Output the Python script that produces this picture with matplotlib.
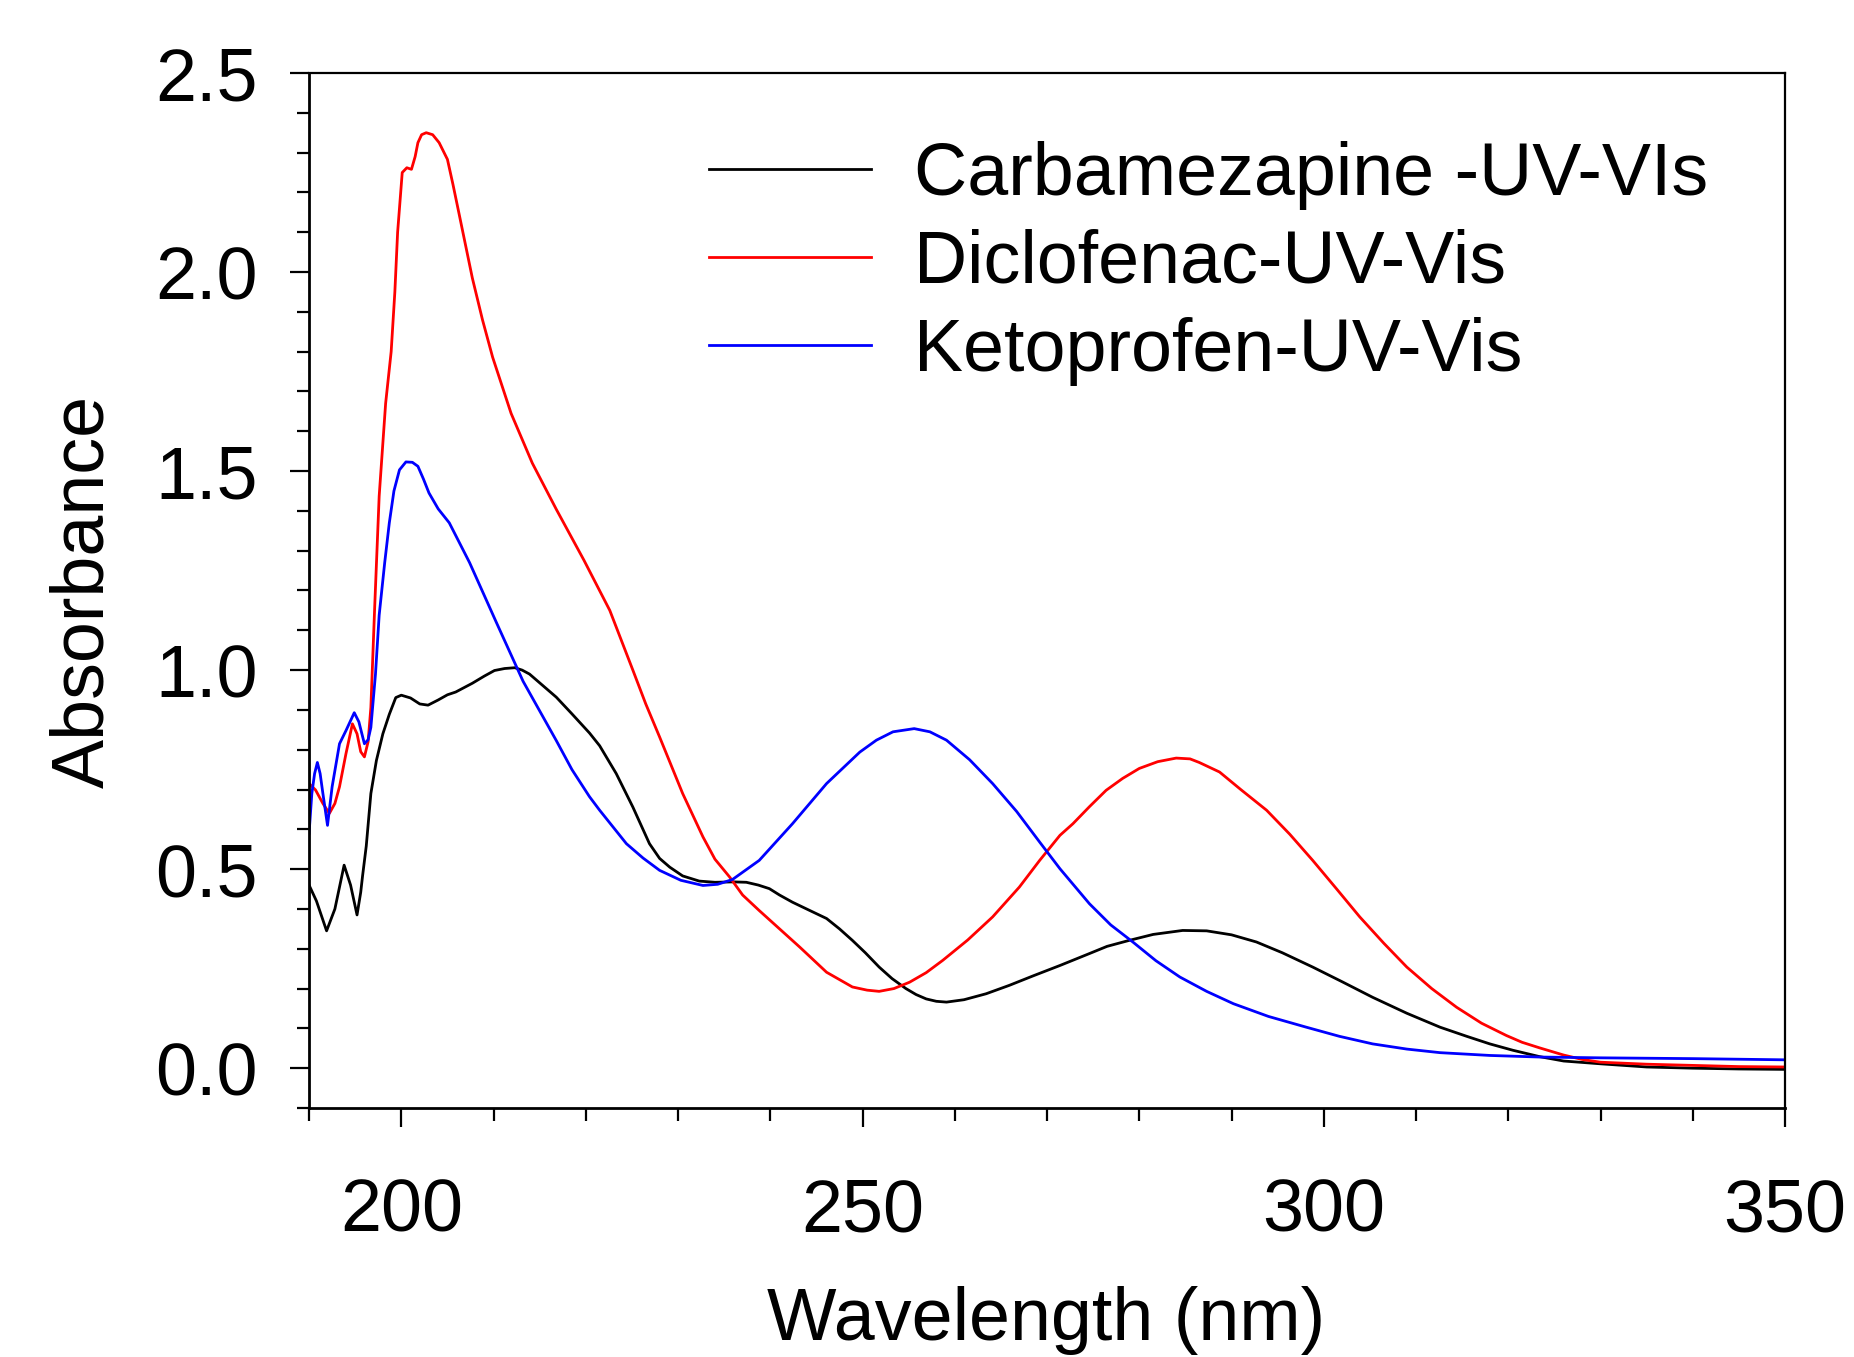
import matplotlib
matplotlib.use("Agg")
import matplotlib.pyplot as plt
from matplotlib.ticker import MultipleLocator

plt.rcParams['font.family'] = ['Liberation Sans', 'DejaVu Sans']

# Carbamazepine spectrum (wavelength nm, absorbance)
carb_wl = [190.0, 190.8, 191.9, 192.8, 193.8, 194.5, 195.2, 195.6, 195.8, 196.2, 196.7,
           197.3, 198.0, 198.7, 199.4, 200.0, 201.0, 202.0, 202.9, 204.0, 205.0, 205.9,
           207.7, 209.0, 210.1, 211.2, 212.3, 213.1, 213.9, 215.3, 216.8, 218.5, 220.4,
           221.5, 223.3, 225.1, 226.9, 228.0, 229.1, 230.5, 232.3, 234.0, 236.0, 237.4,
           238.7, 239.9, 241.0, 242.4, 244.2, 246.1, 247.5, 248.9, 250.3, 251.8, 253.2,
           254.7, 255.8, 256.9, 258.0, 259.1, 261.0, 263.4, 265.9, 268.5, 271.4, 274.6,
           276.5, 278.9, 281.5, 284.7, 287.3, 290.0, 292.7, 295.5, 298.8, 302.0, 305.3,
           309.0, 312.6, 315.5, 318.0, 320.5, 323.4, 326.0, 330.0, 335.0, 340.0, 345.0, 350.0]
carb_abs = [0.46, 0.42, 0.345, 0.40, 0.51, 0.46, 0.385, 0.442, 0.483, 0.558, 0.69,
            0.773, 0.84, 0.889, 0.931, 0.937, 0.93, 0.915, 0.912, 0.925, 0.938, 0.945,
            0.967, 0.985, 0.999, 1.004, 1.006, 1.0, 0.99, 0.962, 0.932, 0.89, 0.842,
            0.81, 0.74, 0.656, 0.564, 0.527, 0.505, 0.483, 0.47, 0.467, 0.468, 0.467,
            0.46, 0.451, 0.435, 0.417, 0.397, 0.376, 0.35, 0.321, 0.29, 0.254, 0.225,
            0.2, 0.185, 0.174, 0.168, 0.166, 0.172, 0.187, 0.208, 0.232, 0.258, 0.288,
            0.306, 0.321, 0.336, 0.346, 0.345, 0.335, 0.317, 0.29, 0.254, 0.217, 0.178,
            0.138, 0.103, 0.08, 0.061, 0.045, 0.029, 0.018, 0.011, 0.003, 0.0, -0.002, -0.003]

# Diclofenac spectrum
dicl_wl = [190.0, 190.7, 191.5, 192.2, 192.8, 193.3, 194.0, 194.7, 195.2, 195.6, 196.0,
           196.4, 196.7, 197.1, 197.6, 198.3, 198.9, 199.3, 199.6, 200.1, 200.6, 201.1,
           201.5, 201.8, 202.2, 202.7, 203.4, 204.1, 205.0, 205.6, 206.3, 207.7, 208.8,
           209.9, 211.9, 214.2, 216.8, 219.8, 222.6, 225.1, 226.5, 228.0, 230.5, 232.7,
           234.0, 235.6, 237.0, 238.8, 241.0, 243.2, 246.1, 248.9, 250.5, 251.8, 253.4,
           255.1, 256.9, 258.7, 261.4, 264.1, 267.0, 269.2, 271.4, 272.8, 274.6, 276.4,
           278.2, 280.0, 282.0, 284.0, 285.5, 286.5, 288.7, 291.0, 293.8, 296.3, 298.8,
           301.4, 303.9, 306.5, 309.0, 311.7, 314.4, 317.1, 319.8, 321.5, 323.4, 326.0,
           328.0, 330.0, 335.0, 340.0, 345.0, 350.0]
dicl_abs = [0.715, 0.699, 0.665, 0.64, 0.665, 0.707, 0.79, 0.865, 0.84, 0.795, 0.782,
            0.82, 0.906, 1.15, 1.437, 1.67, 1.80, 1.95, 2.10, 2.25, 2.262, 2.258,
            2.29, 2.325, 2.345, 2.35, 2.345, 2.325, 2.283, 2.22, 2.142, 1.985, 1.88,
            1.786, 1.645, 1.52, 1.404, 1.276, 1.15, 1.0, 0.915, 0.832, 0.69, 0.581,
            0.525, 0.48, 0.435, 0.396, 0.35, 0.304, 0.241, 0.204, 0.196, 0.193, 0.2,
            0.216, 0.24, 0.271, 0.322, 0.38, 0.455, 0.522, 0.585, 0.614, 0.657, 0.698,
            0.728, 0.753, 0.770, 0.779, 0.777, 0.768, 0.744, 0.70, 0.648, 0.588, 0.522,
            0.45, 0.38, 0.314, 0.254, 0.2, 0.153, 0.113, 0.082, 0.065, 0.051, 0.033,
            0.022, 0.015, 0.01, 0.007, 0.004, 0.003]

# Ketoprofen spectrum
keto_wl = [190.0, 190.3, 190.6, 190.9, 191.2, 191.5, 192.0, 192.5, 193.3, 194.0, 194.9,
           195.4, 196.0, 196.4, 196.7, 197.2, 197.6, 198.2, 198.7, 199.2, 199.8, 200.5,
           201.2, 201.8, 202.4, 203.0, 204.0, 205.2, 206.3, 207.4, 210.3, 213.2, 216.8,
           218.5, 220.4, 221.5, 224.4, 226.2, 228.0, 230.3, 232.7, 234.3, 235.9, 238.8,
           242.4, 246.1, 249.7, 251.5, 253.3, 255.6, 257.3, 259.1, 261.6, 264.1, 266.7,
           269.2, 271.4, 274.6, 276.9, 279.3, 281.8, 284.4, 287.3, 290.2, 294.0, 298.1,
           301.7, 305.3, 309.0, 312.6, 318.0, 323.4, 330.0, 340.0, 350.0]
keto_abs = [0.59, 0.69, 0.74, 0.768, 0.74, 0.69, 0.61, 0.707, 0.815, 0.848, 0.893,
            0.87, 0.815, 0.825, 0.856, 0.99, 1.138, 1.27, 1.37, 1.45, 1.503, 1.523,
            1.522, 1.512, 1.48, 1.445, 1.405, 1.37, 1.32, 1.27, 1.12, 0.972, 0.823,
            0.75, 0.682, 0.648, 0.564, 0.528, 0.497, 0.472, 0.459, 0.462, 0.474, 0.522,
            0.614, 0.715, 0.794, 0.824, 0.845, 0.853, 0.845, 0.824, 0.775, 0.715, 0.645,
            0.568, 0.501, 0.413, 0.36, 0.317, 0.27, 0.229, 0.193, 0.162, 0.13, 0.103,
            0.08, 0.061, 0.048, 0.039, 0.032, 0.028, 0.026, 0.024, 0.021]

labels = ['Carbamezapine -UV-VIs', 'Diclofenac-UV-Vis', 'Ketoprofen-UV-Vis']

fig = plt.figure(figsize=(18.54, 13.57), dpi=100)
ax = fig.add_axes([0.1667, 0.1835, 0.7961, 0.7627])

ax.plot(carb_wl, carb_abs, color='black', linewidth=2.0, label=labels[0])
ax.plot(dicl_wl, dicl_abs, color='red', linewidth=2.0, label=labels[1])
ax.plot(keto_wl, keto_abs, color='blue', linewidth=2.0, label=labels[2])

ax.set_xlim(190, 350)
ax.set_ylim(-0.1, 2.5)
ax.xaxis.set_major_locator(MultipleLocator(50))
ax.xaxis.set_minor_locator(MultipleLocator(10))
ax.yaxis.set_major_locator(MultipleLocator(0.5))
ax.yaxis.set_minor_locator(MultipleLocator(0.1))
ax.set_yticks([0.0, 0.5, 1.0, 1.5, 2.0, 2.5])
ax.set_yticklabels(['0.0', '0.5', '1.0', '1.5', '2.0', '2.5'])
ax.set_xticks([200, 250, 300, 350])

ax.tick_params(which='major', direction='out', length=14, width=1.6, labelsize=53)
ax.tick_params(which='minor', direction='out', length=9, width=1.6)
ax.tick_params(axis='x', which='major', pad=36)
ax.tick_params(axis='y', which='major', pad=23)

for side in ['left', 'bottom']:
    ax.spines[side].set_linewidth(2.0)
for side in ['top', 'right']:
    ax.spines[side].set_linewidth(1.6)

fig.text(0.5644, 1 - 1340 / 1357, 'Wavelength (nm)', fontsize=53,
         ha='center', va='baseline')
fig.text(103 / 1854, 0.5645, 'Absorbance', fontsize=53, rotation=90,
         rotation_mode='anchor', ha='center', va='baseline')

ax.legend(loc='upper left', bbox_to_anchor=(0.271, 0.9345), frameon=False,
          fontsize=53, handlelength=2.2, handletextpad=0.58, labelspacing=0.26,
          borderpad=0, borderaxespad=0)

fig.savefig('out.png', dpi=100)
